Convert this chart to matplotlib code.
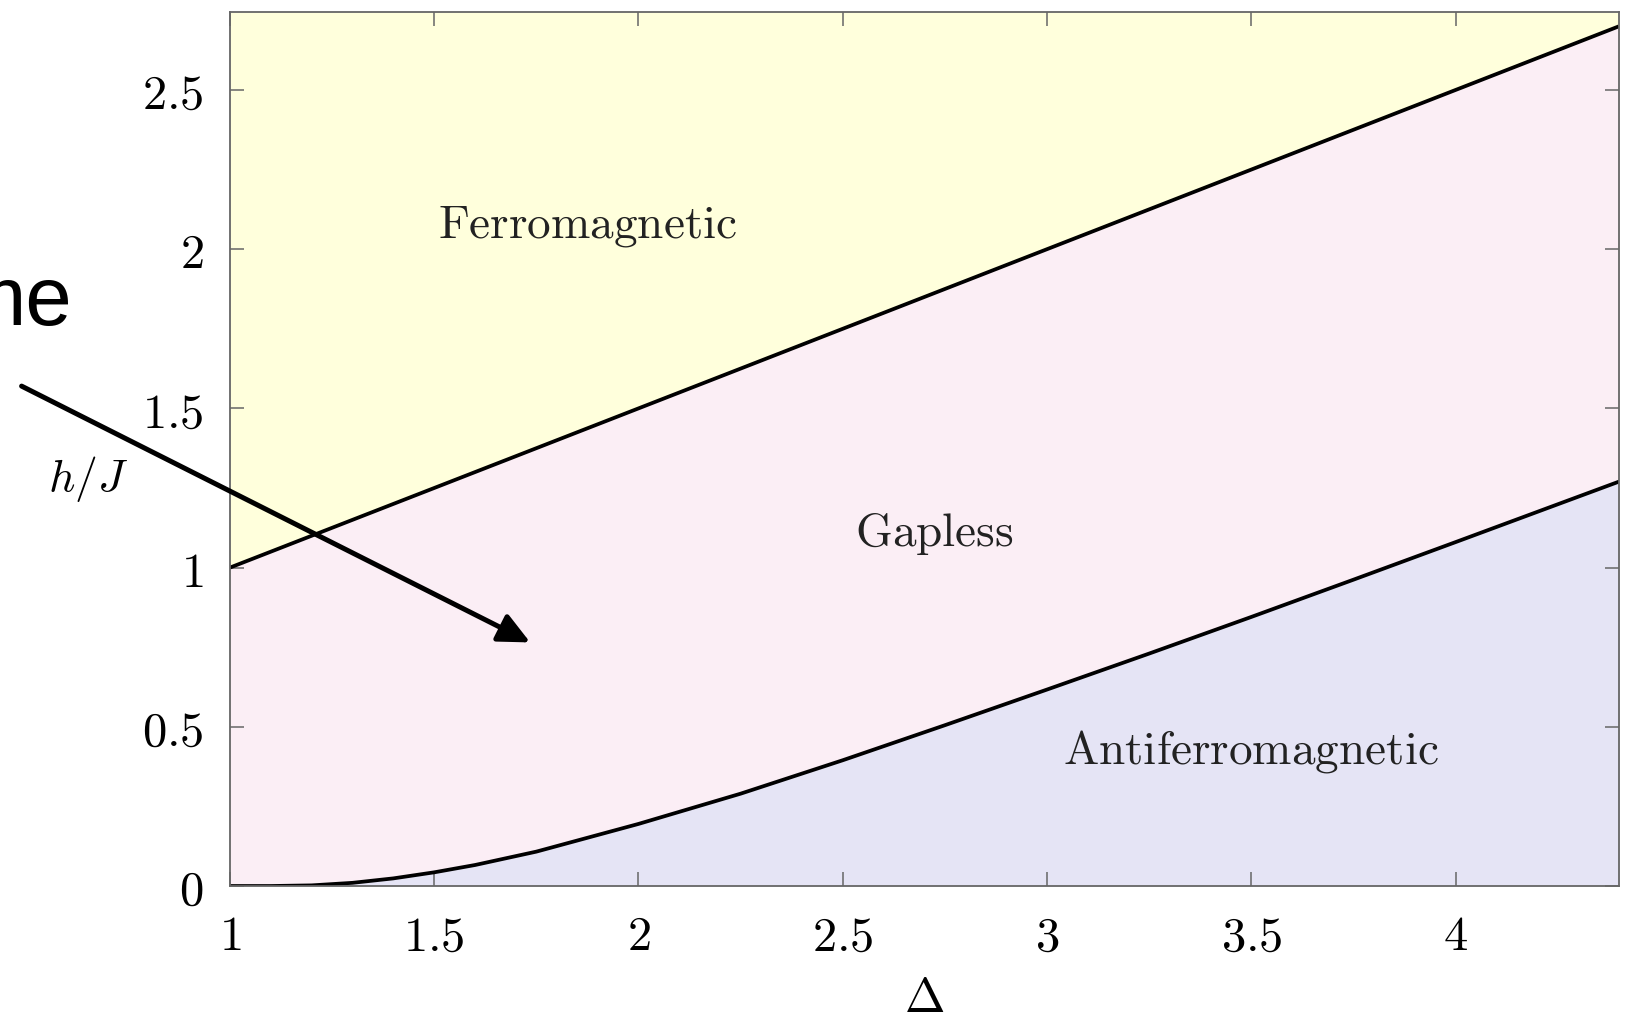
import matplotlib.pyplot as plt

plt.rcParams['mathtext.fontset'] = 'cm'

# Saturation line (ferromagnetic boundary)
delta_fm = [1.0, 4.4]
h_fm = [1.0, 2.7]

# Lower critical field (antiferromagnetic boundary)
delta_afm = [1.0, 1.1, 1.2, 1.3, 1.4, 1.5, 1.6, 1.75, 2.0, 2.25, 2.5,
             2.75, 3.0, 3.25, 3.5, 3.75, 4.0, 4.2, 4.4]
h_afm = [0.0, 0.0, 0.002, 0.01, 0.024, 0.043, 0.066, 0.108, 0.195, 0.29,
         0.395, 0.505, 0.617, 0.73, 0.845, 0.962, 1.08, 1.175, 1.27]

x_ticks = [1, 1.5, 2, 2.5, 3, 3.5, 4]
y_ticks = [0, 0.5, 1, 1.5, 2, 2.5]

xmin, xmax = 1.0, 4.4
ymin, ymax = 0.0, 2.745

fig = plt.figure(figsize=(16.32, 10.23), dpi=100)
ax = fig.add_axes([0.1409, 0.1339, 0.8511, 0.8544])

# Phase regions
ax.set_facecolor('#fbeef5')
ax.fill_between(delta_fm, h_fm, ymax, color='#ffffdc', lw=0)
ax.fill_between(delta_afm, 0, h_afm, color='#e5e4f5', lw=0)

ax.plot(delta_fm, h_fm, color='black', lw=2.7, solid_capstyle='butt')
ax.plot(delta_afm, h_afm, color='black', lw=2.7)

ax.set_xlim(xmin, xmax)
ax.set_ylim(ymin, ymax)

ax.set_xticks(x_ticks)
ax.set_xticklabels([r'$%g$' % t for t in x_ticks])
ax.set_yticks(y_ticks)
ax.set_yticklabels([r'$%g$' % t for t in y_ticks])
ax.tick_params(direction='in', length=10, width=1.1, color='#666666',
               top=True, right=True, labelsize=35, pad=19)

for s in ax.spines.values():
    s.set_color('#666666')
    s.set_linewidth(1.3)

ax.set_xlabel(r'$\Delta$', fontsize=35, labelpad=10)
ax.set_ylabel(r'$h/J$', fontsize=33, rotation=0)
ax.yaxis.set_label_coords(-0.102, 0.466)
ax.yaxis.label.set_verticalalignment('center')

txt_kw = dict(fontsize=34, ha='center', va='center', color='#222222')
ax.text(1.875, 2.07, r'$\mathrm{Ferromagnetic}$', **txt_kw)
ax.text(2.724, 1.106, r'$\mathrm{Gapless}$', **txt_kw)
ax.text(3.50, 0.424, r'$\mathrm{Antiferromagnetic}$', **txt_kw)

# Pointer arrow and callout text on the left
ax.annotate('', xy=(1.735, 0.765), xytext=(0.49, 1.57),
            arrowprops=dict(arrowstyle='-|>,head_length=1.9,head_width=0.9',
                            color='black', lw=3.6, shrinkA=0, shrinkB=0),
            annotation_clip=False)
fig.text(72 / 1632, 1 - 325 / 1023, 'me', fontsize=60, family='Liberation Sans',
         ha='right', va='baseline')

fig.savefig('out.png', dpi=100)
